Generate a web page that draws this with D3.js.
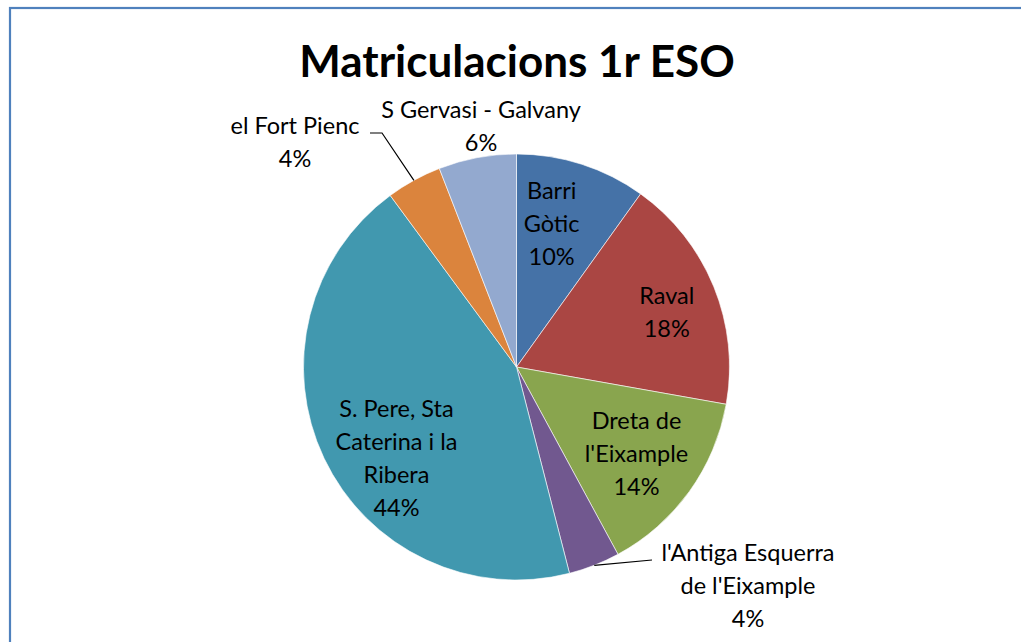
<!DOCTYPE html>
<html><head><meta charset="utf-8">
<script src="https://cdn.jsdelivr.net/npm/d3@7"></script>
<style>
html,body{margin:0;padding:0;background:#fff;}
svg{display:block;}
text{font-family:Lato,"Open Sans",sans-serif;fill:#000;}
</style></head>
<body>
<svg id="c" width="1021" height="642"></svg>
<script>
const categories = ["Barri Gòtic","Raval","Dreta de l'Eixample","l'Antiga Esquerra de l'Eixample","S. Pere, Sta Caterina i la Ribera","el Fort Pienc","S Gervasi - Galvany"];
const values = [9.9, 17.9, 14.3, 3.9, 43.9, 4.2, 5.9];
const colors = ["#4572a7","#aa4643","#89a54e","#71588f","#4198af","#db843d","#93a9cf"];
const labelLines = [["Barri","Gòtic"],["Raval"],["Dreta de","l'Eixample"],["l'Antiga Esquerra","de l'Eixample"],["S. Pere, Sta","Caterina i la","Ribera"],["el Fort Pienc"],["S Gervasi - Galvany"]];
const title = "Matriculacions 1r ESO";

// layout
const W=1021,H=642, cx=516.5, cy=367, R=213, lh=33, fs=23.5;
const place = [
  {r:147, da:-4, dx:0, dy:0},
  {r:160, da:2, dx:0, dy:0},
  {r:148, da:0, dx:0, dy:0},
  {out:true, x:748, y:586},
  {r:151, da:-12, dx:0, dy:0},
  {out:true, x:295, y:142},
  {out:true, x:481, y:126}
];

const svg=d3.select("#c");
svg.append("rect").attr("x",10).attr("y",8).attr("width",1030).attr("height",660)
  .attr("fill","none").attr("stroke","#4f81bd").attr("stroke-width",2.2);

svg.append("text").attr("x",517).attr("y",77).attr("text-anchor","middle")
  .style("font-weight","bold").style("font-size","44px").text(title);

const total=d3.sum(values);
const pie=d3.pie().sort(null).value(d=>d)(values);
const arc=d3.arc().innerRadius(0).outerRadius(R);
const g=svg.append("g").attr("transform",`translate(${cx},${cy})`);
g.selectAll("path").data(pie).join("path").attr("d",arc)
  .attr("fill",(d,i)=>colors[i]).attr("stroke","#fff").attr("stroke-width",0.6);

function edgePt(d,frac){const a=(d.startAngle+d.endAngle)/2; return [cx+Math.sin(a)*R*frac, cy-Math.cos(a)*R*frac];}
const leaders=[
  {i:5, pts:(p)=>[[370,133],[382,133],p]},
  {i:3, pts:(p)=>[[652,560],p]}
];
leaders.forEach(l=>{
  const p=edgePt(pie[l.i],1.0);
  svg.append("path").attr("d",d3.line()(l.pts(p))).attr("fill","none").attr("stroke","#000").attr("stroke-width",1.2);
});

pie.forEach((d,i)=>{
  const pct=Math.round(values[i]/total*100)+"%";
  const lines=labelLines[i].concat([pct]);
  const pl=place[i];
  let x,y;
  if(pl.out){x=pl.x;y=pl.y;}
  else{
    const a=(d.startAngle+d.endAngle)/2+pl.da*Math.PI/180;
    x=cx+Math.sin(a)*pl.r+pl.dx; y=cy-Math.cos(a)*pl.r+pl.dy;
  }
  const t=svg.append("text").attr("text-anchor","middle").style("font-size",fs+"px");
  const y0=y-(lines.length-1)*lh/2;
  lines.forEach((s,k)=>t.append("tspan").attr("x",x).attr("y",y0+k*lh).attr("dy","0.35em").text(s));
});
</script>
</body></html>
